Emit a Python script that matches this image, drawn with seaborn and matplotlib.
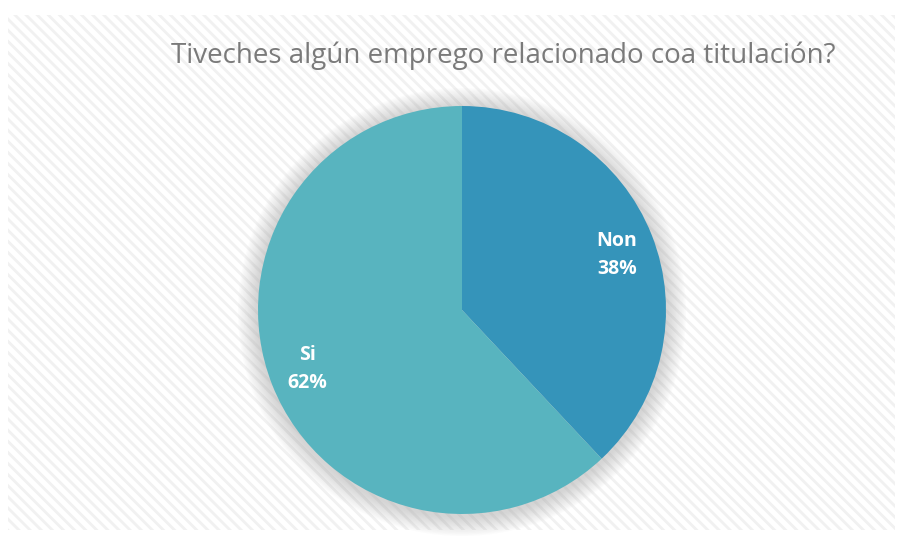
import matplotlib
matplotlib.use("Agg")
import matplotlib.pyplot as plt
import seaborn as sns
from matplotlib.patches import Rectangle, Circle

categories = ["Non", "Si"]
values = [38, 62]
colors = ["#3594BA", "#58B4BF"]
title = "Tiveches algún emprego relacionado coa titulación?"

sns.set_style("white")
plt.rcParams['font.family'] = ['Open Sans', 'DejaVu Sans']
plt.rcParams['hatch.color'] = '#f1f1f1'
plt.rcParams['hatch.linewidth'] = 2.0

fig = plt.figure(figsize=(9.05, 5.36), dpi=100)
fig.patch.set_facecolor("white")

# hatched chart area background
bg = Rectangle((8 / 905, 1 - 530 / 536), 887 / 905, 515 / 536, transform=fig.transFigure,
               facecolor="white", edgecolor="#f1f1f1", hatch="\\\\\\", linewidth=0, zorder=-5)
fig.patches.append(bg)

cx, cy, r = 462 / 905, 1 - 310 / 536, 204
k = 1.15
ax = fig.add_axes([cx - r * k / 905, cy - r * k / 536, 2 * r * k / 905, 2 * r * k / 536], zorder=2)
ax.set_axis_off()
ax.patch.set_alpha(0)

wedges, texts = ax.pie(values, colors=colors, startangle=90, counterclock=False, radius=1.0,
                       wedgeprops=dict(linewidth=0))
for w_ in wedges:
    w_.set_zorder(3)

# soft shadow
for i in range(14):
    rad = 1.0 + 0.007 * (14 - i)
    ax.add_patch(Circle((0, -0.01), rad, facecolor="#9a9a9a", alpha=0.03, edgecolor="none", zorder=1))

ax.set_xlim(-k, k)
ax.set_ylim(-k, k)

labels_pos = [(0.76, 0.27), (-0.76, -0.29)]
for cat, v, (x, y) in zip(categories, values, labels_pos):
    ax.text(x, y, f"{cat}\n{v}%", ha="center", va="center", color="white",
            fontsize=14, fontweight="bold", linespacing=1.5, zorder=5)

fig.text(503 / 905, 1 - 56 / 536, title, ha="center", va="center", color="#7a7a7a", fontsize=20)

fig.savefig("out.png", dpi=100)
